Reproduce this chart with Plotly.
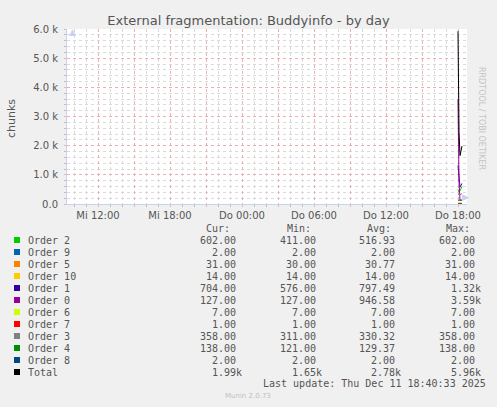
import plotly.graph_objects as go

# --- data (5 min steps, Thu Dec 11 2025) ---
times = ["2025-12-11 18:00", "2025-12-11 18:05", "2025-12-11 18:10",
         "2025-12-11 18:15", "2025-12-11 18:20"]

order_0 = [3590, 762, 127, 127, 127]
order_1 = [1320, 820, 576, 640, 704]
order_2 = [500, 411, 450, 560, 602]
order_3 = [330, 311, 320, 335, 358]
order_4 = [125, 121, 128, 133, 138]
order_5 = [30, 30, 31, 31, 31]
order_6 = [7, 7, 7, 7, 7]
order_7 = [1, 1, 1, 1, 1]
order_8 = [2, 2, 2, 2, 2]
order_9 = [2, 2, 2, 2, 2]
order_10 = [14, 14, 14, 14, 14]
total = [5922, 2481, 1658, 1852, 1986]

# legend table (same order as munin draws them)
names = ["Order 2", "Order 9", "Order 5", "Order 10", "Order 1", "Order 0",
         "Order 6", "Order 7", "Order 3", "Order 4", "Order 8", "Total"]
cur = ["602.00", "2.00", "31.00", "14.00", "704.00", "127.00",
       "7.00", "1.00", "358.00", "138.00", "2.00", "1.99k"]
mins = ["411.00", "2.00", "30.00", "14.00", "576.00", "127.00",
        "7.00", "1.00", "311.00", "121.00", "2.00", "1.65k"]
avgs = ["516.93", "2.00", "30.77", "14.00", "797.49", "946.58",
        "7.00", "1.00", "330.32", "129.37", "2.00", "2.78k"]
maxs = ["602.00", "2.00", "31.00", "14.00", "1.32k", "3.59k",
        "7.00", "1.00", "358.00", "138.00", "2.00", "5.96k"]

x_tick_vals = ["2025-12-10 12:00", "2025-12-10 15:00", "2025-12-10 18:00",
               "2025-12-10 21:00", "2025-12-11 00:00", "2025-12-11 03:00",
               "2025-12-11 06:00", "2025-12-11 09:00", "2025-12-11 12:00",
               "2025-12-11 15:00", "2025-12-11 18:00"]
x_tick_text = ["Mi 12:00", "", "Mi 18:00", "", "Do 00:00", "", "Do 06:00",
               "", "Do 12:00", "", "Do 18:00"]
y_tick_vals = [0, 1000, 2000, 3000, 4000, 5000, 6000]
y_tick_text = ["0.0", "1.0 k", "2.0 k", "3.0 k", "4.0 k", "5.0 k", "6.0 k"]

series = {
    "Order 2": order_2, "Order 9": order_9, "Order 5": order_5,
    "Order 10": order_10, "Order 1": order_1, "Order 0": order_0,
    "Order 6": order_6, "Order 7": order_7, "Order 3": order_3,
    "Order 4": order_4, "Order 8": order_8, "Total": total,
}
colors = {
    "Order 2": "#00CC00", "Order 9": "#0066B3", "Order 5": "#FF8000",
    "Order 10": "#FFCC00", "Order 1": "#330099", "Order 0": "#990099",
    "Order 6": "#CCFF00", "Order 7": "#FF0000", "Order 3": "#808080",
    "Order 4": "#008F00", "Order 8": "#00487D", "Total": "#000000",
}

# plot area in pixels (munin canvas)
W, H = 497, 407
PL, PR, PT, PB = 67, 467, 29, 204


def px(x):
    return (x - PL) / (PR - PL)


def py(y):
    return (PB - y) / (PB - PT)


fig = go.Figure()
for name in names:
    fig.add_trace(go.Scatter(x=times, y=series[name], mode="lines", name=name,
                             line=dict(color=colors[name], width=1)))

fig.update_layout(
    width=W, height=H, autosize=False,
    margin=dict(l=PL, r=W - PR, t=PT, b=H - PB),
    paper_bgcolor="#F0F0F0", plot_bgcolor="#FFFFFF",
    font=dict(family="DejaVu Sans", size=10, color="#555555"),
    showlegend=False,
    title=dict(text="External fragmentation: Buddyinfo - by day",
               x=0.5, xref="container", xanchor="center",
               y=1 - 20 / H, yref="container", yanchor="middle",
               font=dict(size=13, color="#555555")),
)

fig.update_xaxes(
    type="date", range=["2025-12-10 09:25", "2025-12-11 18:45"],
    tickmode="array", tickvals=x_tick_vals, ticktext=x_tick_text,
    showgrid=True, gridcolor="#EBB0B0", griddash="dot", gridwidth=1,
    ticks="outside", ticklen=2, tickcolor="#EBB0B0",
    showline=True, linecolor="#C8D0F4", linewidth=1, zeroline=False,
    minor=dict(tickmode="linear", tick0="2025-12-10 00:00", dtick=3600000,
               showgrid=True, gridcolor="#DADADA", griddash="dot",
               ticks="outside", ticklen=2, tickcolor="#BBBBBB"),
    tickfont=dict(size=10, color="#555555"),
)
fig.update_yaxes(
    range=[0, 6000], tickmode="array", tickvals=y_tick_vals, ticktext=y_tick_text,
    showgrid=True, gridcolor="#EBB0B0", griddash="dot", gridwidth=1,
    ticks="outside", ticklen=2, tickcolor="#EBB0B0", ticklabelstandoff=4,
    showline=True, linecolor="#C8D0F4", linewidth=1, zeroline=False,
    minor=dict(tickmode="linear", tick0=0, dtick=200,
               showgrid=True, gridcolor="#DADADA", griddash="dot",
               ticks="outside", ticklen=2, tickcolor="#BBBBBB"),
    tickfont=dict(size=10, color="#555555"),
)

ann = []
# axis arrows
ann.append(dict(x=px(471), y=py(PB), text="▶", showarrow=False,
                font=dict(size=9, color="#C8D0F4")))
ann.append(dict(x=px(PL), y=py(25), text="▲", showarrow=False,
                font=dict(size=9, color="#C8D0F4")))
# y axis title
ann.append(dict(x=px(11), y=py(118), text="chunks", textangle=-90, showarrow=False,
                xanchor="center", font=dict(size=11, color="#555555")))
# rrdtool watermark
ann.append(dict(x=px(488), y=py(65), text="RRDTOOL / TOBI OETIKER", textangle=90,
                showarrow=False, font=dict(size=8, color="#C4C4C4")))

mono = dict(family="DejaVu Sans Mono", size=10, color="#555555")
CH = 6.02  # width of one mono char


def value_text(x_right, y, s):
    # rrdtool pads a space where the unit letter would go
    xr = x_right if s.endswith("k") else x_right - CH
    ann.append(dict(x=px(xr), y=py(y), text=s, showarrow=False, xanchor="right",
                    yanchor="middle", font=mono))


# column headers
for label, xr in [("Cur:", 232), ("Min:", 313), ("Avg:", 393), ("Max:", 472)]:
    ann.append(dict(x=px(xr), y=py(228), text=label, showarrow=False,
                    xanchor="right", yanchor="middle", font=mono))

shapes = []
for i, name in enumerate(names):
    y = 240 + 12 * i
    shapes.append(dict(type="rect", xref="paper", yref="paper",
                       x0=px(14), x1=px(20), y0=py(y + 3), y1=py(y - 3),
                       fillcolor=colors[name], line=dict(width=0)))
    ann.append(dict(x=px(26), y=py(y), text=name, showarrow=False,
                    xanchor="left", yanchor="middle", font=mono))
    value_text(244, y, cur[i])
    value_text(324, y, mins[i])
    value_text(403, y, avgs[i])
    value_text(483, y, maxs[i])

ann.append(dict(x=px(488), y=py(383), text="Last update: Thu Dec 11 18:40:33 2025",
                showarrow=False, xanchor="right", yanchor="middle", font=mono))
ann.append(dict(x=px(248), y=py(396), text="Munin 2.0.73", showarrow=False,
                yanchor="middle", font=dict(size=7, color="#C0C0C0")))

for a in ann:
    a.setdefault("xref", "paper")
    a.setdefault("yref", "paper")
fig.update_layout(annotations=ann, shapes=shapes)

# drop the browser's default body margin so the canvas sits at 0,0
fig.write_html("out.html", config={"displayModeBar": False},
               post_script="document.body.style.margin='0';"
                           "document.body.style.background='#F0F0F0';")
